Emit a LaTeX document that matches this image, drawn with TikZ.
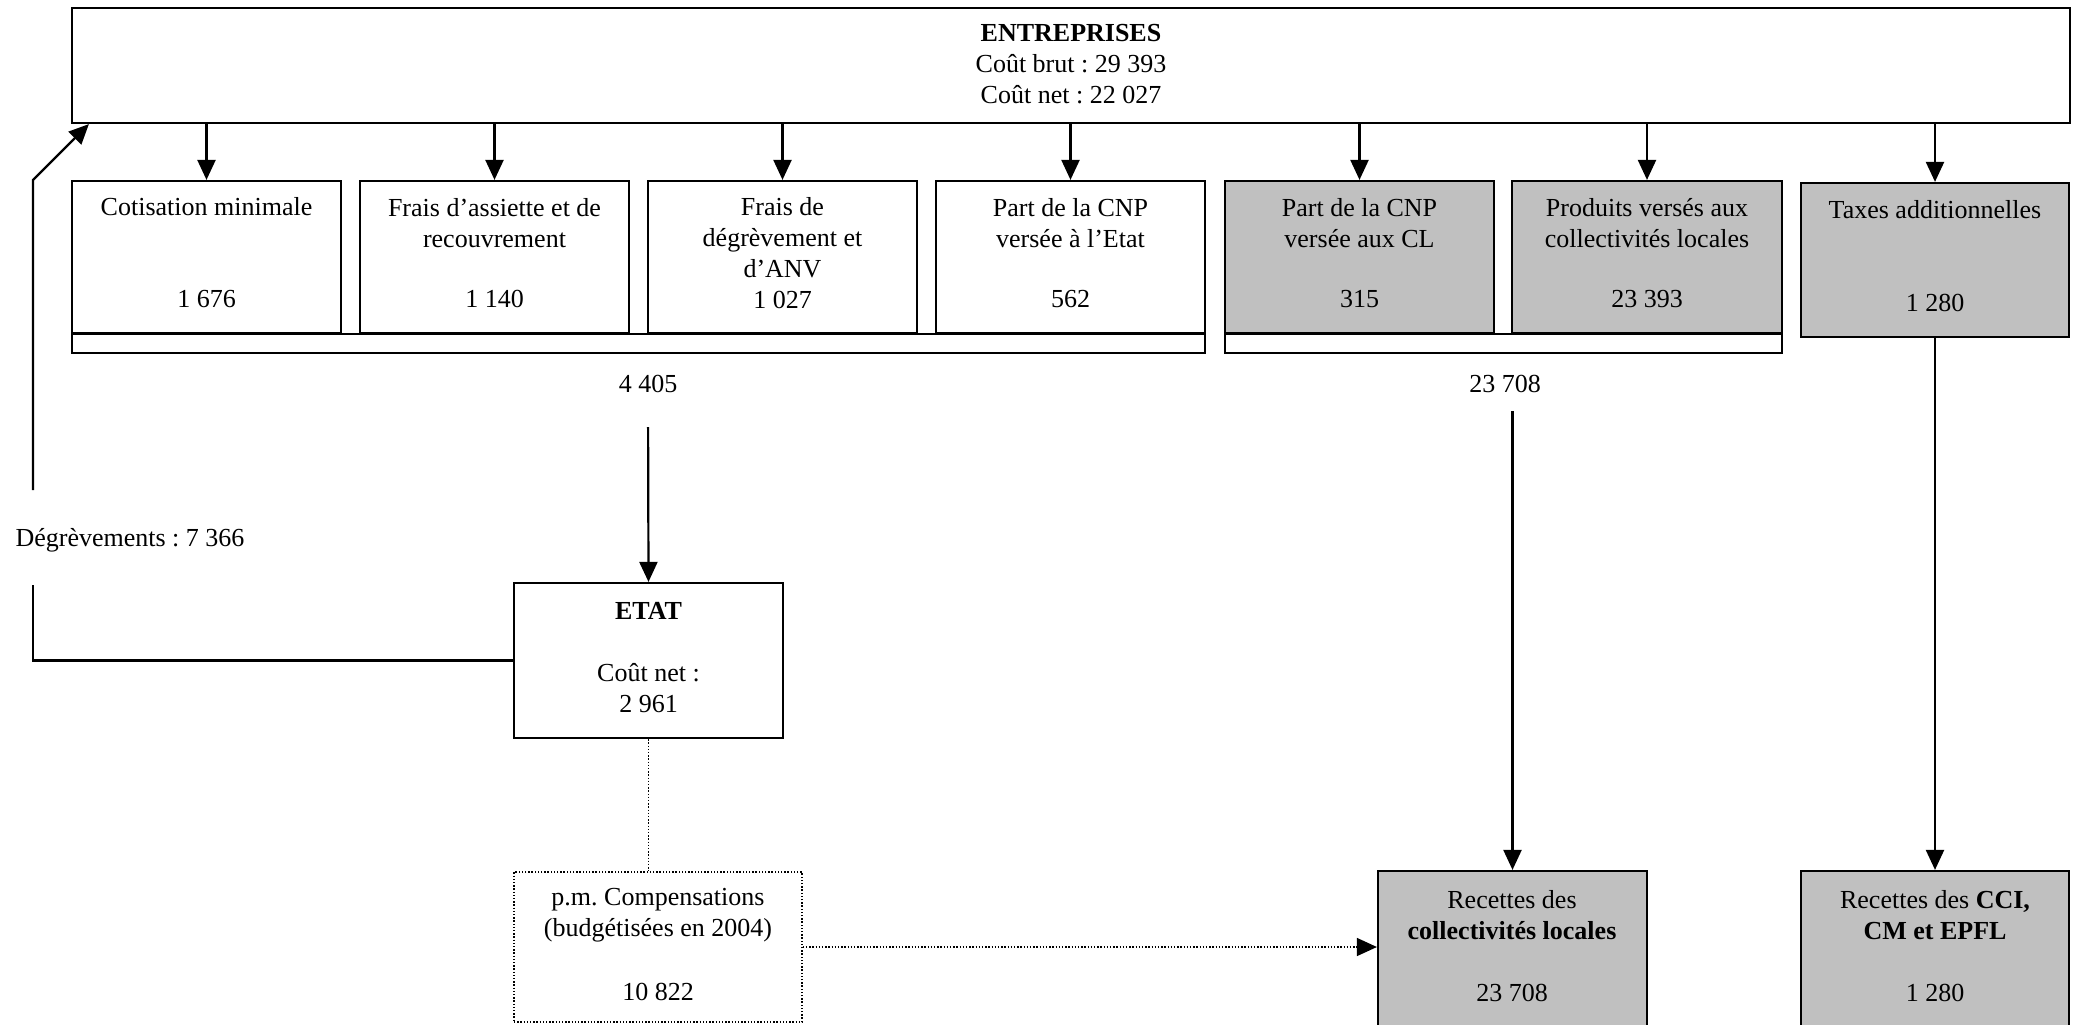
\documentclass[tikz,border=0pt]{standalone}
\usepackage{fontspec}
\setmainfont{Liberation Serif}
\frenchspacing
\usetikzlibrary{arrows.meta, fit}
\definecolor{cellgray}{HTML}{C0C0C0}

\begin{document}
\begin{tikzpicture}[x=0.5pt, y=-0.5pt,
    box/.style={draw, line width=1.1pt, inner sep=0pt},
    greybox/.style={box, fill=cellgray},
    txt/.style={align=center, inner sep=0pt, font=\fontsize{13}{15.5}\selectfont},
    arr/.style={line width=1.1pt, -{Triangle[length=10pt, width=9pt]}},
    dots/.style={line width=0.7pt, dash pattern=on 0.7pt off 0.9pt}]
    \clip (0,0) rectangle (2078,1024);
    \node[box, fit={(72,8) (2070,123)}] (ent) {};
    \node[txt] (entT) at (1071,64) {\textbf{ENTREPRISES}\\Coût brut : 29 393\\Coût net : 22 027};

    \node[box, line width=0.9pt, fit={(72,334) (1205,353)}] (grpA) {};
    \node[box, line width=0.9pt, fit={(1225,334) (1782,353)}] (grpB) {};

    \node[box, fit={(72,181) (341,333)}] (cot) {};
    \node[box, fit={(360,181) (629,333)}] (fra) {};
    \node[box, fit={(648,181) (917,333)}] (deg) {};
    \node[box, fit={(936,181) (1205,333)}] (cnpE) {};
    \node[greybox, fit={(1225,181) (1494,333)}] (cnpC) {};
    \node[greybox, fit={(1512,181) (1782,333)}] (prod) {};
    \node[greybox, fit={(1801,183) (2069,337)}] (tax) {};

    \node[txt] at (206.5,207) {Cotisation minimale};
    \node[txt] at (206.5,299) {1 676};
    \node[txt] at (494.5,223) {Frais d’assiette et de\\recouvrement};
    \node[txt] at (494.5,299) {1 140};
    \node[txt] at (782.5,238) {Frais de\\dégrèvement et\\d’ANV};
    \node[txt] at (782.5,300) {1 027};
    \node[txt] at (1070.5,223) {Part de la CNP\\versée à l’Etat};
    \node[txt] at (1070.5,299) {562};
    \node[txt] at (1359.5,223) {Part de la CNP\\versée aux CL};
    \node[txt] at (1359.5,299) {315};
    \node[txt] at (1647,223) {Produits versés aux\\collectivités locales};
    \node[txt] at (1647,299) {23 393};
    \node[txt] at (1935,210) {Taxes additionnelles};
    \node[txt] at (1935,303) {1 280};

    \draw[arr] (cot.north |- ent.south) -- (cot.north);
    \draw[arr] (fra.north |- ent.south) -- (fra.north);
    \draw[arr] (deg.north |- ent.south) -- (deg.north);
    \draw[arr] (cnpE.north |- ent.south) -- (cnpE.north);
    \draw[arr] (cnpC.north |- ent.south) -- (cnpC.north);
    \draw[arr] (prod.north |- ent.south) -- (prod.north);
    \draw[arr] (tax.north |- ent.south) -- (tax.north);

    \node[txt] (totA) at (648,384) {4 405};
    \node[txt] (totB) at (1505,384) {23 708};

    \node[box, fit={(514,583) (783,738)}] (etat) {};
    \node[txt] at (648.5,611) {\textbf{ETAT}};
    \node[txt] at (648.5,688) {Coût net :\\2 961};
    \draw[arr, shorten <=17pt] (totA.south) -- (etat.north);

    \node[box, dots, fit={(514,872) (802,1022)}] (comp) {};
    \node[txt] at (658,915) {p.m. Compensations\\(budgétisées en 2004)};
    \node[txt] at (658,992) {10 822};

    \node[greybox, fit={(1378,871) (1647,1060)}] (recCL) {};
    \node[txt] at (1512,915) {Recettes des\\\textbf{collectivités locales}};
    \node[txt] at (1512,993) {23 708};
    \node[greybox, fit={(1801,871) (2069,1060)}] (recCCI) {};
    \node[txt] at (1935,915) {Recettes des \textbf{CCI,}\\\textbf{CM et EPFL}};
    \node[txt] at (1935,993) {1 280};

    \draw[arr, shorten <=9pt] (recCL.north |- totB.south) -- (recCL.north);
    \draw[arr] (tax.south) -- (recCCI.north);
    \draw[dots] (etat.south) -- (etat.south |- comp.north);
    \draw[arr, dots] (comp.east) -- (comp.east -| recCL.west);

    \coordinate (dLow) at (33,585);
    \coordinate (dUp) at (33,490);
    \coordinate (dTop) at (33,180);
    \node[txt] (degr) at (130,540) {Dégrèvements : 7 366};
    \draw[line width=1.1pt] (etat.west) -| (dLow);
    \draw[arr] (dUp) -- (dTop) -- ([xshift=9pt]ent.south west);
\end{tikzpicture}
\end{document}
